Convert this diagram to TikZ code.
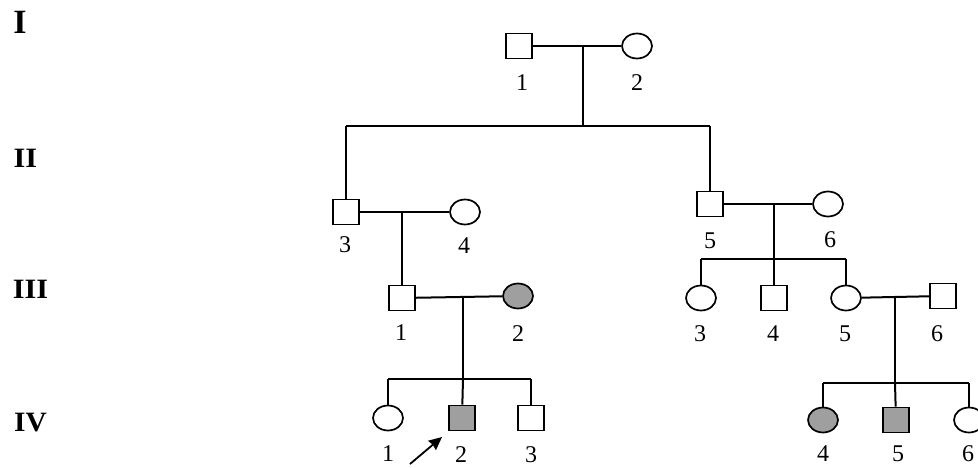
\documentclass[tikz,border=0pt]{standalone}
\usepackage{fontspec}
\setmainfont{Liberation Serif}
\usetikzlibrary{arrows.meta,shapes.geometric}
\begin{document}
\begin{tikzpicture}[x=1pt,y=-1pt,
  male/.style={draw,line width=1.7pt,minimum width=26pt,minimum height=25pt,inner sep=0pt},
  female/.style={draw,ellipse,line width=1.7pt,minimum width=30pt,minimum height=25pt,inner sep=0pt},
  affected/.style={fill=gray!75},
  lbl/.style={font=\fontsize{24}{24}\selectfont,inner sep=0pt},
  gen/.style={font=\bfseries\fontsize{28}{28}\selectfont,inner sep=0pt},
  link/.style={line width=2pt}]
\clip (0,0) rectangle (978,468);

% generation numerals
\node[gen,font=\bfseries\fontsize{34}{34}\selectfont] (gI) at (20,22) {I};
\node[gen] (gII)  at (25.5,158.5) {\scalebox{1.08}[1]{II}};
\node[gen] (gIII) at (30.5,289) {\scalebox{1.08}[1]{III}};
\node[gen] (gIV)  at (30.5,423) {\scalebox{1.05}[1]{IV}};

% generation I
\node[male]   (I1) at (519,46) {};
\node[female] (I2) at (637,46) {};
\coordinate (mI) at (583,46);
\coordinate (sII) at (583,126);
\coordinate (sIIa) at (346,126);
\coordinate (sIIb) at (710,126);

% generation II
\node[male]   (II3) at (346,212) {};
\node[female] (II4) at (465,212) {};
\node[male]   (II5) at (710,204) {};
\node[female] (II6) at (828,204) {};
\coordinate (mIIa) at (402,212);
\coordinate (mIIb) at (774,204);
\coordinate (sIIIb) at (774,259);
\coordinate (sIIIb1) at (701,259);
\coordinate (sIIIb2) at (846,259);

% generation III
\node[male]   (III1) at (402,298) {};
\node[female,affected] (III2) at (518,296) {};
\node[female] (III3) at (701,298) {};
\node[male]   (III4) at (774,298) {};
\node[female] (III5) at (846,298) {};
\node[male]   (III6) at (943,296) {};
\coordinate (mIIIa) at (463,296);
\coordinate (sIVa) at (463,379);
\coordinate (sIVa1) at (388,379);
\coordinate (sIVa2) at (531,379);
\coordinate (mIIIb) at (895,296);
\coordinate (sIVb) at (895,383);
\coordinate (sIVb1) at (823,383);
\coordinate (sIVb2) at (969,383);

% generation IV
\node[female] (IV1) at (388,418) {};
\node[male,affected] (IV2) at (462,418) {};
\node[male]   (IV3) at (531,418) {};
\node[female,affected] (IV4) at (823,420) {};
\node[male,affected] (IV5) at (896,420) {};
\node[female] (IV6) at (969,420) {};

% marriages and descent lines
\draw[link] (I1) -- (I2);
\draw[link] (mI) -- (sII);
\draw[link] (sIIa) -- (sIIb);
\draw[link] (sIIa) -- (II3);
\draw[link] (sIIb) -- (II5);

\draw[link] (II3) -- (II4);
\draw[link] (mIIa) -- (III1);
\draw[link] (II5) -- (II6);
\draw[link] (mIIb) -- (sIIIb);
\draw[link] (sIIIb1) -- (sIIIb2);
\draw[link] (sIIIb1) -- (III3);
\draw[link] (sIIIb) -- (III4);
\draw[link] (sIIIb2) -- (III5);

\draw[link] (III1) -- (III2);
\draw[link] (mIIIa) -- (sIVa);
\draw[link] (sIVa1) -- (sIVa2);
\draw[link] (sIVa1) -- (IV1);
\draw[link] (sIVa) -- (IV2);
\draw[link] (sIVa2) -- (IV3);

\draw[link] (III5) -- (III6);
\draw[link] (mIIIb) -- (sIVb);
\draw[link] (sIVb1) -- (sIVb2);
\draw[link] (sIVb1) -- (IV4);
\draw[link] (sIVb) -- (IV5);
\draw[link] (sIVb2) -- (IV6);

% proband arrow
\coordinate (prA) at (410,464);
\coordinate (prB) at (442,437);
\draw[line width=1.8pt,-{Stealth[length=13pt,width=12pt,inset=1pt]}] (prA) -- (prB);

% individual numbers
\node[lbl] (nI1) at (522,83) {1};
\node[lbl] (nI2) at (637,83) {2};
\node[lbl] (nII3) at (345,245) {3};
\node[lbl] (nII4) at (464,246) {4};
\node[lbl] (nII5) at (710,241) {5};
\node[lbl] (nII6) at (830,240) {6};
\node[lbl] (nIII1) at (401,333) {1};
\node[lbl] (nIII2) at (518,334) {2};
\node[lbl] (nIII3) at (700,334) {3};
\node[lbl] (nIII4) at (773,334) {4};
\node[lbl] (nIII5) at (845,334) {5};
\node[lbl] (nIII6) at (937,334) {6};
\node[lbl] (nIV1) at (388,454) {1};
\node[lbl] (nIV2) at (461,455) {2};
\node[lbl] (nIV3) at (531,455) {3};
\node[lbl] (nIV4) at (823,454) {4};
\node[lbl] (nIV5) at (898,454) {5};
\node[lbl] (nIV6) at (968,454) {6};
\end{tikzpicture}
\end{document}
